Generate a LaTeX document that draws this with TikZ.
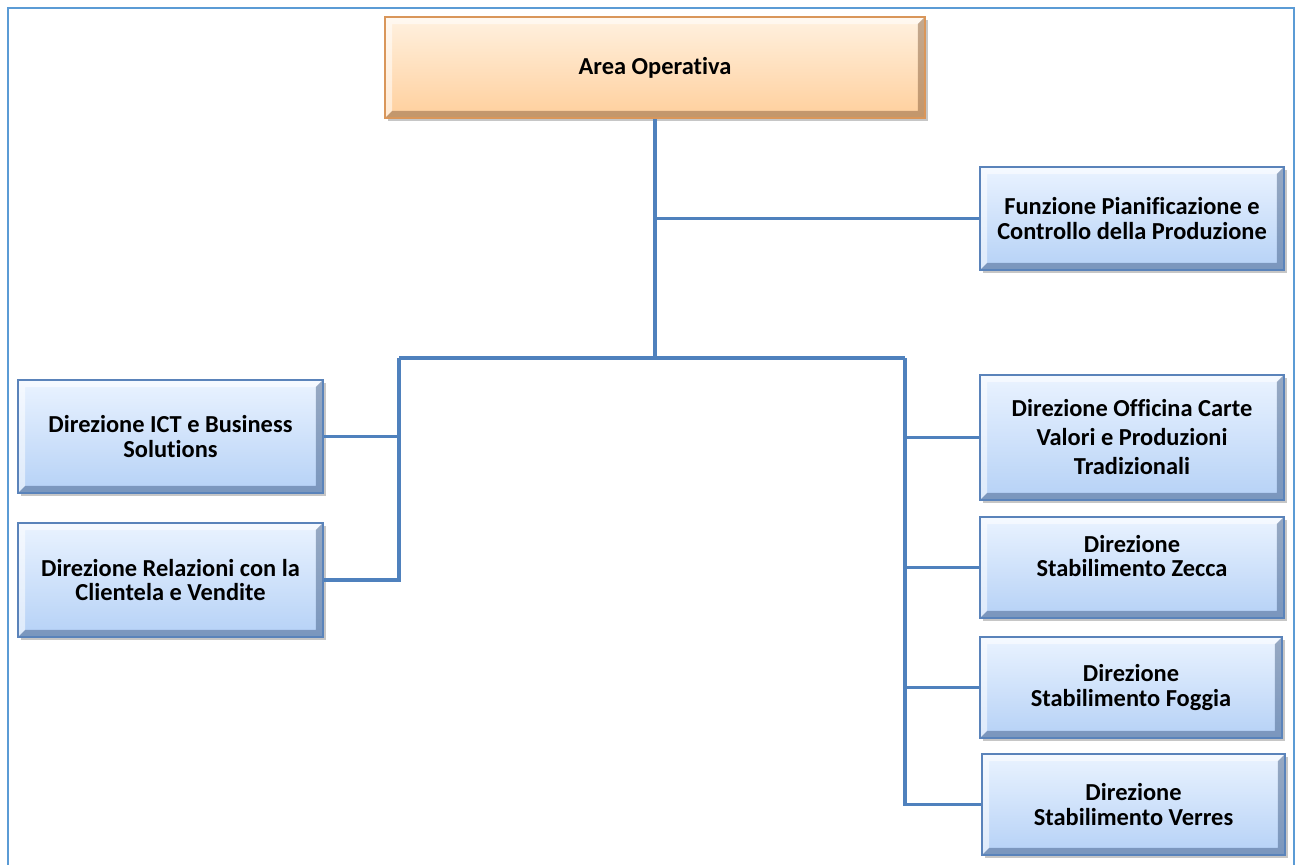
\documentclass[tikz,border=0pt]{standalone}
\usepackage{fontspec}
\setmainfont{Carlito}[Ligatures = NoCommon]
\usetikzlibrary{positioning, shadows}

\definecolor{linkBlue}{HTML}{4F81BD}
\definecolor{frameBlue}{HTML}{5B9BD5}
\definecolor{boxTop}{HTML}{EAF3FF}
\definecolor{boxBottom}{HTML}{B5D1F6}
\definecolor{boxEdge}{HTML}{5A83BA}
\definecolor{boxDark}{HTML}{33507A}
\definecolor{headTop}{HTML}{FFF1E0}
\definecolor{headBottom}{HTML}{FFCF9C}
\definecolor{headEdge}{HTML}{D9965A}
\definecolor{headDark}{HTML}{7A5230}

% bevelled edges: light top/left, dark bottom/right
\newcommand{\bevelEdges}[1]{
	\fill[white, opacity = 0.55] (path picture bounding box.south west) -- ++(4pt, 4pt)
		-- ([xshift = 4pt, yshift = -4pt] path picture bounding box.north west)
		-- ([xshift = -4pt, yshift = -4pt] path picture bounding box.north east)
		-- (path picture bounding box.north east) -- (path picture bounding box.north west) -- cycle;
	\fill[#1, opacity = 0.45] (path picture bounding box.south west) -- ++(4pt, 4pt)
		-- ([xshift = -4pt, yshift = 4pt] path picture bounding box.south east)
		-- ([xshift = -4pt, yshift = -4pt] path picture bounding box.north east)
		-- (path picture bounding box.north east) -- (path picture bounding box.south east) -- cycle;
}

\tikzset{
	unit/.style = {draw = boxEdge, line width = 1.2pt, top color = boxTop, bottom color = boxBottom,
		align = center, font = \fontsize{13.9}{13.7}\selectfont\bfseries, inner sep = 2pt,
		path picture = {\bevelEdges{boxDark}},
		drop shadow = {shadow xshift = 1.5pt, shadow yshift = -1.5pt, opacity = 0.45}},
	head/.style = {unit, draw = headEdge, top color = headTop, bottom color = headBottom,
		path picture = {\bevelEdges{headDark}}},
	link/.style = {draw = linkBlue, line width = 2.2pt},
}

\begin{document}
\begin{tikzpicture}[x = 0.02cm, y = -0.02cm]

		% page frame
		\useasboundingbox (0, 0) rectangle (1295, 865);
		\draw[frameBlue, line width = 1.1pt] (8, 865) -- (8, 8) -- (1294, 8) -- (1294, 865);

		% bus coordinates
		\coordinate (J) at (655, 358);
		\coordinate (LB) at (399, 358);
		\coordinate (RB) at (905, 358);

		% head
		\node[head, minimum width = 10.8cm, minimum height = 2.02cm] (area) at (655, 67.5) {Area Operativa};

		% staff function
		\node[unit, minimum width = 6.08cm, minimum height = 2.06cm] (funzione) at (1132, 218.5)
			{Funzione Pianificazione e\\Controllo della Produzione};

		% left branch
		\node[unit, minimum width = 6.1cm, minimum height = 2.26cm] (ict) at (170.5, 436.5)
			{Direzione ICT e Business\\Solutions};
		\node[unit, minimum width = 6.1cm, minimum height = 2.28cm] (relazioni) at (170.5, 580)
			{Direzione Relazioni con la\\Clientela e Vendite};

		% right branch
		\node[unit, minimum width = 6.08cm, minimum height = 2.5cm] (officina) at (1132, 437.5)
			{Direzione Officina Carte\\[2.8pt]Valori e Produzioni\\[2.8pt]Tradizionali};
		\node[unit, minimum width = 6.08cm, minimum height = 2.02cm] (zecca) at (1132, 567.5)
			{Direzione\\Stabilimento Zecca\\\mbox{}};
		\node[unit, minimum width = 6.04cm, minimum height = 2.02cm] (foggia) at (1131, 687.5)
			{Direzione\\Stabilimento Foggia};
		\node[unit, minimum width = 6.06cm, minimum height = 2.02cm] (verres) at (1133.5, 804.5)
			{Direzione\\Stabilimento Verres};

		% links
		\draw[link] (area.south) -- (J);
		\draw[link] (area.south |- funzione.west) -- (funzione.west);
		\draw[link] (LB) -- (RB);
		\draw[link] (ict.east) -- (LB |- ict.east);
		\draw[link] (LB) |- (relazioni.east);
		\foreach \unit in {officina, zecca, foggia} {
			\draw[link] (RB |- \unit.west) -- (\unit.west);
		}
		\draw[link] (RB) |- (verres.west);

	\end{tikzpicture}
\end{document}
